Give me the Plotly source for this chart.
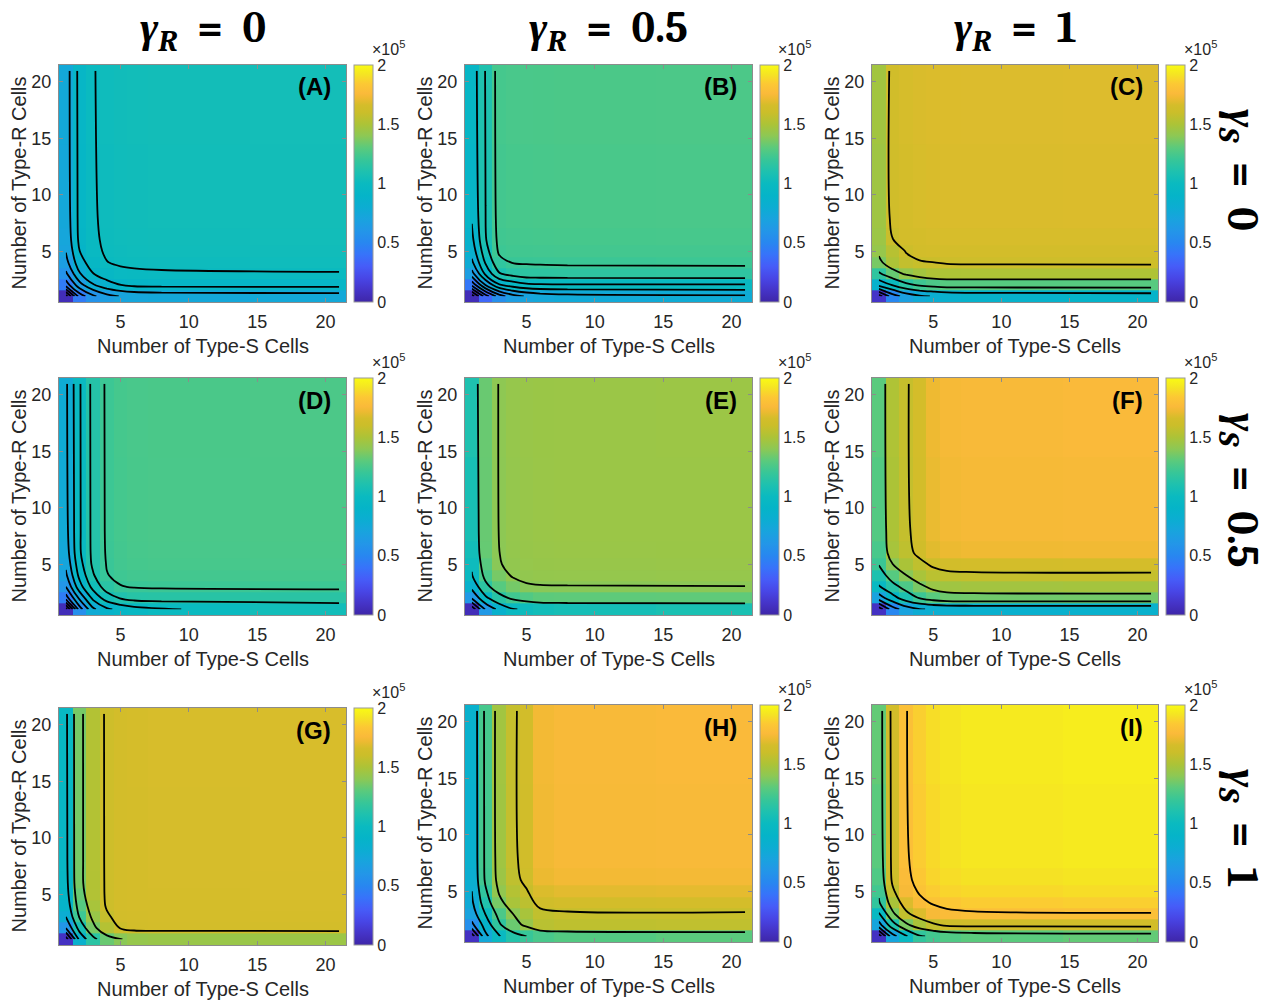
import plotly.graph_objects as go

# Cell counts sampled along both axes (Type-S on x, Type-R on y)
cells = [1, 2, 3, 4, 5, 6, 8, 21]

# Surface values in units of 1e5; each row is one Type-R count, each column one Type-S count
surf_A = [
    [0.05, 0.44, 0.58, 0.665, 0.705, 0.725, 0.74, 0.75],
    [0.44, 0.66, 0.79, 0.86, 0.898, 0.92, 0.926, 0.93],
    [0.58, 0.79, 0.897, 0.95, 0.98, 0.986, 0.99, 0.995],
    [0.665, 0.86, 0.95, 0.998, 1.01, 1.015, 1.02, 1.025],
    [0.705, 0.898, 0.98, 1.01, 1.02, 1.025, 1.03, 1.035],
    [0.725, 0.92, 0.986, 1.015, 1.025, 1.03, 1.035, 1.04],
    [0.74, 0.926, 0.99, 1.02, 1.03, 1.035, 1.04, 1.045],
    [0.75, 0.93, 0.995, 1.025, 1.035, 1.04, 1.045, 1.05],
]
surf_B = [
    [0.05, 0.35, 0.55, 0.66, 0.71, 0.74, 0.76, 0.78],
    [0.42, 0.702, 0.886, 0.942, 0.975, 0.985, 0.988, 0.99],
    [0.66, 0.921, 1.091, 1.135, 1.161, 1.162, 1.165, 1.167],
    [0.78, 1.011, 1.171, 1.204, 1.207, 1.209, 1.212, 1.214],
    [0.84, 1.061, 1.215, 1.225, 1.228, 1.23, 1.233, 1.235],
    [0.875, 1.092, 1.225, 1.235, 1.238, 1.24, 1.243, 1.245],
    [0.91, 1.099, 1.233, 1.243, 1.246, 1.248, 1.251, 1.253],
    [0.94, 1.105, 1.24, 1.25, 1.253, 1.255, 1.258, 1.26],
]
surf_C = [
    [0.1, 0.5, 0.68, 0.77, 0.81, 0.84, 0.87, 0.89],
    [0.86, 1.007, 1.151, 1.22, 1.261, 1.288, 1.289, 1.29],
    [1.17, 1.327, 1.422, 1.473, 1.506, 1.508, 1.509, 1.51],
    [1.36, 1.502, 1.573, 1.59, 1.598, 1.612, 1.619, 1.62],
    [1.43, 1.535, 1.605, 1.645, 1.651, 1.653, 1.654, 1.655],
    [1.45, 1.596, 1.653, 1.66, 1.664, 1.666, 1.667, 1.668],
    [1.46, 1.635, 1.66, 1.667, 1.671, 1.673, 1.674, 1.675],
    [1.47, 1.64, 1.665, 1.672, 1.676, 1.678, 1.679, 1.68],
]
surf_D = [
    [0.05, 0.55, 0.78, 0.88, 0.93, 0.96, 0.995, 1.04],
    [0.45, 0.721, 0.926, 1.051, 1.106, 1.138, 1.142, 1.147],
    [0.60, 0.859, 1.035, 1.148, 1.196, 1.205, 1.21, 1.215],
    [0.68, 0.926, 1.09, 1.196, 1.22, 1.23, 1.235, 1.24],
    [0.72, 0.962, 1.121, 1.205, 1.23, 1.24, 1.245, 1.25],
    [0.745, 0.986, 1.126, 1.21, 1.235, 1.245, 1.25, 1.255],
    [0.765, 0.988, 1.128, 1.213, 1.238, 1.248, 1.253, 1.258],
    [0.78, 0.99, 1.13, 1.215, 1.24, 1.25, 1.255, 1.26],
]
surf_E = [
    [0.05, 0.62, 0.86, 0.99, 1.02, 1.04, 1.06, 1.08],
    [0.62, 0.961, 1.142, 1.227, 1.275, 1.305, 1.308, 1.31],
    [0.86, 1.156, 1.289, 1.353, 1.39, 1.395, 1.396, 1.398],
    [0.99, 1.246, 1.358, 1.41, 1.42, 1.425, 1.428, 1.43],
    [1.02, 1.294, 1.395, 1.42, 1.43, 1.435, 1.438, 1.44],
    [1.045, 1.325, 1.399, 1.425, 1.435, 1.44, 1.443, 1.445],
    [1.07, 1.328, 1.403, 1.428, 1.438, 1.443, 1.446, 1.448],
    [1.1, 1.33, 1.405, 1.43, 1.44, 1.445, 1.448, 1.45],
]
surf_F = [
    [0.08, 0.5, 0.7, 0.79, 0.815, 0.83, 0.84, 0.85],
    [0.7, 0.927, 1.094, 1.21, 1.293, 1.339, 1.346, 1.35],
    [0.98, 1.139, 1.262, 1.363, 1.442, 1.462, 1.471, 1.475],
    [1.1, 1.288, 1.394, 1.49, 1.544, 1.567, 1.576, 1.58],
    [1.21, 1.396, 1.495, 1.566, 1.622, 1.646, 1.655, 1.66],
    [1.25, 1.484, 1.558, 1.632, 1.691, 1.715, 1.725, 1.73],
    [1.28, 1.501, 1.576, 1.651, 1.71, 1.735, 1.745, 1.75],
    [1.3, 1.51, 1.585, 1.66, 1.72, 1.745, 1.755, 1.76],
]
surf_G = [
    [0.08, 0.85, 1.15, 1.33, 1.395, 1.43, 1.44, 1.45],
    [0.6, 1.076, 1.357, 1.525, 1.607, 1.647, 1.651, 1.655],
    [0.8, 1.215, 1.439, 1.58, 1.647, 1.654, 1.658, 1.662],
    [0.88, 1.285, 1.487, 1.615, 1.650, 1.657, 1.661, 1.665],
    [0.92, 1.328, 1.519, 1.617, 1.652, 1.659, 1.663, 1.667],
    [0.94, 1.355, 1.520, 1.618, 1.653, 1.66, 1.664, 1.668],
    [0.955, 1.356, 1.521, 1.619, 1.654, 1.661, 1.665, 1.669],
    [0.965, 1.357, 1.522, 1.62, 1.655, 1.662, 1.666, 1.67],
]
surf_H = [
    [0.08, 0.75, 0.99, 1.12, 1.2, 1.25, 1.28, 1.3],
    [0.55, 0.882, 1.173, 1.333, 1.433, 1.541, 1.559, 1.563],
    [0.7, 1.01, 1.26, 1.399, 1.488, 1.567, 1.586, 1.59],
    [0.77, 1.113, 1.357, 1.49, 1.553, 1.636, 1.655, 1.66],
    [0.8, 1.176, 1.418, 1.526, 1.591, 1.676, 1.695, 1.70],
    [0.82, 1.228, 1.451, 1.562, 1.628, 1.715, 1.735, 1.74],
    [0.84, 1.238, 1.464, 1.576, 1.642, 1.73, 1.75, 1.755],
    [0.85, 1.242, 1.468, 1.58, 1.647, 1.735, 1.755, 1.76],
]
surf_I = [
    [0.08, 0.72, 0.98, 1.18, 1.23, 1.27, 1.30, 1.318],
    [0.72, 1.112, 1.364, 1.492, 1.572, 1.625, 1.638, 1.646],
    [0.98, 1.364, 1.570, 1.678, 1.749, 1.772, 1.786, 1.795],
    [1.18, 1.492, 1.678, 1.774, 1.812, 1.836, 1.85, 1.86],
    [1.23, 1.572, 1.749, 1.812, 1.851, 1.876, 1.89, 1.9],
    [1.27, 1.625, 1.772, 1.836, 1.876, 1.90, 1.915, 1.925],
    [1.30, 1.638, 1.786, 1.85, 1.89, 1.915, 1.93, 1.94],
    [1.318, 1.646, 1.795, 1.86, 1.9, 1.925, 1.94, 1.95],
]

# Contour levels (start, end, step) for each panel
levels_A = (0.1, 1.0, 0.1)
levels_B = (0.1, 1.2, 0.1)
levels_C = (0.2, 1.6, 0.2)
levels_D = (0.1, 1.2, 0.1)
levels_E = (0.2, 1.4, 0.2)
levels_F = (0.2, 1.6, 0.2)
levels_G = (0.2, 1.6, 0.2)
levels_H = (0.2, 1.6, 0.2)
levels_I = (0.2, 1.8, 0.2)

panel_tags = ["A", "B", "C", "D", "E", "F", "G", "H", "I"]
gamma_R_values = ["0", "0.5", "1"]
gamma_S_values = ["0", "0.5", "1"]
axis_ticks = [5, 10, 15, 20]
colorbar_ticks = [0, 0.5, 1, 1.5, 2]

surfaces = [surf_A, surf_B, surf_C, surf_D, surf_E, surf_F, surf_G, surf_H, surf_I]
levels = [levels_A, levels_B, levels_C, levels_D, levels_E, levels_F, levels_G, levels_H, levels_I]

# Parula-like colour map
parula = [
    (0.000, (62, 38, 168)), (0.050, (69, 52, 200)), (0.100, (72, 70, 230)),
    (0.150, (70, 92, 248)), (0.200, (55, 115, 250)), (0.250, (40, 135, 240)),
    (0.300, (35, 150, 232)), (0.350, (25, 163, 222)), (0.400, (12, 173, 210)),
    (0.450, (5, 180, 200)), (0.500, (10, 186, 192)), (0.550, (30, 193, 175)),
    (0.600, (55, 198, 152)), (0.650, (90, 202, 125)), (0.700, (140, 200, 85)),
    (0.750, (172, 195, 55)), (0.800, (203, 190, 42)), (0.830, (212, 189, 42)),
    (0.860, (238, 186, 50)), (0.880, (250, 186, 58)), (0.920, (252, 200, 52)),
    (0.960, (245, 228, 35)), (1.000, (249, 251, 20)),
]
colorscale = [[p, "rgb(%d,%d,%d)" % c] for p, c in parula]

W, H = 1287, 1002
# Plot-area boxes in pixels: (left, right, top, bottom)
boxes = [
    (59, 346, 65, 302), (465, 752, 65, 302), (872, 1158, 65, 302),
    (59, 346, 378, 615), (465, 752, 378, 615), (872, 1158, 378, 615),
    (59, 346, 708, 945), (465, 752, 705, 942), (872, 1158, 705, 942),
]

TXT = "#262626"
FONT = "Arial, Liberation Sans, Helvetica, sans-serif"
SERIF = "Cambria, Liberation Serif, DejaVu Serif, serif"
NB = "\u00a0"

fig = go.Figure()
annotations = []
layout_axes = {}

for k, (tag, z, lev, box) in enumerate(zip(panel_tags, surfaces, levels, boxes)):
    n = k + 1
    xa = "x" if n == 1 else "x%d" % n
    ya = "y" if n == 1 else "y%d" % n
    x0, x1, y0, y1 = box

    fig.add_trace(go.Heatmap(
        x=cells, y=cells, z=z, xaxis=xa, yaxis=ya,
        colorscale=colorscale, zmin=0, zmax=2,
        hoverinfo="skip",
        colorbar=dict(
            x=(x1 + 8) / W, xanchor="left",
            y=1 - y1 / H, yanchor="bottom",
            len=(y1 - y0) / H, lenmode="fraction",
            thickness=19, thicknessmode="pixels",
            xpad=0, ypad=0,
            outlinewidth=1, outlinecolor="#9a9a9a",
            tickvals=colorbar_ticks,
            ticktext=["0", "0.5", "1", "1.5", "2"],
            ticks="", tickfont=dict(family=FONT, size=16, color=TXT),
        ),
    ))
    fig.add_trace(go.Contour(
        x=cells, y=cells, z=z, xaxis=xa, yaxis=ya,
        autocontour=False,
        contours=dict(start=lev[0], end=lev[1] + 1e-9, size=lev[2], coloring="none"),
        line=dict(color="black", width=1.8),
        showscale=False, hoverinfo="skip",
    ))

    axis_common = dict(
        range=[0.5, 21.5], tickvals=axis_ticks, ticks="inside", ticklen=4,
        tickcolor="#8c8c8c", showline=True, linecolor="#8c8c8c", linewidth=1,
        mirror="ticks", showgrid=False, zeroline=False,
        tickfont=dict(family=FONT, size=18, color=TXT),
    )
    layout_axes["xaxis" if n == 1 else "xaxis%d" % n] = dict(
        domain=[x0 / W, x1 / W], anchor=ya, ticklabelstandoff=3, **axis_common)
    layout_axes["yaxis" if n == 1 else "yaxis%d" % n] = dict(
        domain=[1 - y1 / H, 1 - y0 / H], anchor=xa, ticklabelstandoff=3, **axis_common)

    # panel tag
    annotations.append(dict(
        text="<b>(%s)</b>" % tag, xref="paper", yref="paper",
        x=(x1 - 13) / W, y=1 - (y0 + 22) / H, xanchor="right", yanchor="middle",
        showarrow=False, font=dict(family=FONT, size=24, color="black")))
    # axis titles
    annotations.append(dict(
        text="Number of Type-S Cells", xref="paper", yref="paper",
        x=(x0 + x1) / 2 / W, y=1 - (y1 + 44) / H, xanchor="center", yanchor="middle",
        showarrow=False, font=dict(family=FONT, size=20, color=TXT)))
    annotations.append(dict(
        text="Number of Type-R Cells", xref="paper", yref="paper",
        x=(x0 - 41) / W, y=1 - (y0 + y1) / 2 / H, xanchor="center", yanchor="middle",
        textangle=-90, showarrow=False, font=dict(family=FONT, size=20, color=TXT)))
    # colour-bar exponent
    annotations.append(dict(
        text="\u00d710<sup>5</sup>", xref="paper", yref="paper",
        x=(x1 + 24) / W, y=1 - (y0 - 17) / H, xanchor="left", yanchor="middle",
        showarrow=False, font=dict(family=FONT, size=16, color=TXT)))

# column headings
for j, v in enumerate(gamma_R_values):
    x0, x1, _, _ = boxes[j]
    annotations.append(dict(
        text="<b><i>\u03b3</i><sub><i>R</i></sub>%s=%s%s</b>" % (NB * 2, NB * 2, v),
        xref="paper", yref="paper", x=(x0 + x1) / 2 / W, y=1,
        xanchor="center", yanchor="top", showarrow=False,
        font=dict(family=SERIF, size=44, color="black")))

# row headings
row_centres = [170, 490, 828]
for i, v in enumerate(gamma_S_values):
    annotations.append(dict(
        text="<b><i>\u03b3</i><sub><i>S</i></sub>%s=%s%s</b>" % (NB * 2, NB * 2, v),
        xref="paper", yref="paper", x=1240 / W, y=1 - row_centres[i] / H,
        xanchor="center", yanchor="middle", textangle=90, showarrow=False,
        font=dict(family=SERIF, size=44, color="black")))

fig.update_layout(
    width=W, height=H, margin=dict(l=0, r=0, t=0, b=0),
    paper_bgcolor="white", plot_bgcolor="white",
    showlegend=False, annotations=annotations, **layout_axes)

fig.write_html("out.html")
